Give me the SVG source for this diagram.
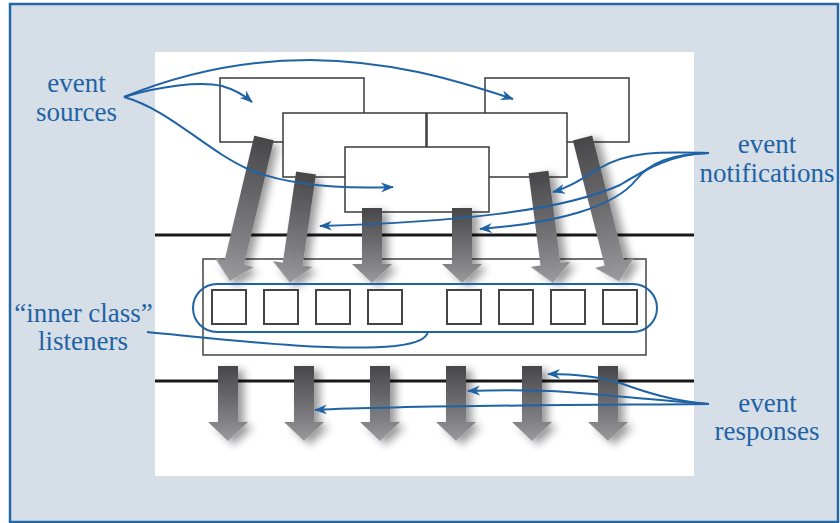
<svg xmlns="http://www.w3.org/2000/svg" width="840" height="523" viewBox="0 0 840 523">
  <style>
    .lbl { font-family: "Liberation Serif", "Times New Roman", serif; font-size: 27px; fill: #1f63a5; text-anchor: middle; }
    .box { fill: #ffffff; stroke: #3a3a3a; stroke-width: 1.5; }
    .sq { fill: #ffffff; stroke: #444444; stroke-width: 2; }
    .rule { stroke: #1a1a1a; stroke-width: 3; }
    .conn { fill: none; stroke: #1f63a5; stroke-width: 2; }
    .garrow { fill: url(#gradArrow); filter: url(#shadow); }
  </style>
  <defs>
    <linearGradient id="gradArrow" x1="0" y1="0" x2="0" y2="1">
      <stop offset="0" stop-color="#474749"/>
      <stop offset="0.7" stop-color="#7e7e82"/>
      <stop offset="1" stop-color="#9b9b9e"/>
    </linearGradient>
    <filter id="shadow" x="-60%" y="-20%" width="220%" height="150%">
      <feGaussianBlur in="SourceAlpha" stdDeviation="4"/>
      <feOffset dx="6" dy="4" result="b"/>
      <feComponentTransfer in="b" result="s">
        <feFuncA type="linear" slope="0.4"/>
      </feComponentTransfer>
      <feMerge>
        <feMergeNode in="s"/>
        <feMergeNode in="SourceGraphic"/>
      </feMerge>
    </filter>
    <marker id="head" markerUnits="userSpaceOnUse" markerWidth="14" markerHeight="12" refX="12" refY="5" orient="auto">
      <path d="M0,0 L13,5 L0,10 L4,5 Z" fill="#1f63a5"/>
    </marker>
  </defs>

  <!-- background frame -->
  <rect x="10" y="4" width="828" height="518" fill="#d6dee8" stroke="#2568aa" stroke-width="2.5"/>
  <rect x="155" y="52" width="539" height="424" fill="#ffffff"/>

  <!-- event source boxes -->
  <g id="source-a"><rect class="box" x="220" y="78" width="144" height="64"/></g>
  <g id="source-d"><rect class="box" x="485" y="78" width="144" height="64"/></g>
  <g id="source-b"><rect class="box" x="283" y="113" width="143" height="64"/></g>
  <g id="source-c"><rect class="box" x="427" y="113" width="140" height="64"/></g>
  <g id="source-e"><rect class="box" x="345" y="147" width="144" height="65"/></g>

  <!-- horizontal rules -->
  <line class="rule" x1="155" y1="235" x2="694" y2="235"/>
  <line class="rule" x1="155" y1="381" x2="694" y2="381"/>

  <!-- listener container -->
  <g id="listeners-panel">
    <rect x="203" y="259" width="443" height="96" fill="#ffffff" stroke="#444444" stroke-width="1.5"/>
  </g>

  <!-- notification arrows (upper) -->
  <g id="notification-arrows">
    <path class="garrow" transform="translate(264,138) rotate(13.4)" d="M-10,0 H10 V128 H20 L0,147 L-20,128 H-10 Z"/>
    <path class="garrow" transform="translate(306,173) rotate(8.3)" d="M-10,0 H10 V92 H20 L0,111 L-20,92 H-10 Z"/>
    <path class="garrow" transform="translate(372,208)" d="M-10,0 H10 V56 H20 L0,75 L-20,56 H-10 Z"/>
    <path class="garrow" transform="translate(462,208)" d="M-10,0 H10 V56 H20 L0,75 L-20,56 H-10 Z"/>
    <path class="garrow" transform="translate(538.5,172) rotate(-7.4)" d="M-10,0 H10 V93 H20 L0,112 L-20,93 H-10 Z"/>
    <path class="garrow" transform="translate(582.5,138) rotate(-14.3)" d="M-10,0 H10 V129 H20 L0,148 L-20,129 H-10 Z"/>
  </g>

  <!-- inner class listener squares -->
  <g id="listener-1"><rect class="sq" x="212" y="290" width="34" height="34"/></g>
  <g id="listener-2"><rect class="sq" x="264" y="290" width="34" height="34"/></g>
  <g id="listener-3"><rect class="sq" x="316" y="290" width="34" height="34"/></g>
  <g id="listener-4"><rect class="sq" x="368" y="290" width="34" height="34"/></g>
  <g id="listener-5"><rect class="sq" x="447" y="290" width="34" height="34"/></g>
  <g id="listener-6"><rect class="sq" x="499" y="290" width="34" height="34"/></g>
  <g id="listener-7"><rect class="sq" x="551" y="290" width="34" height="34"/></g>
  <g id="listener-8"><rect class="sq" x="603" y="290" width="34" height="34"/></g>

  <!-- response arrows (lower) -->
  <g id="response-arrows">
    <path class="garrow" transform="translate(228,366)" d="M-10,0 H10 V56 H20 L0,75 L-20,56 H-10 Z"/>
    <path class="garrow" transform="translate(304,366)" d="M-10,0 H10 V56 H20 L0,75 L-20,56 H-10 Z"/>
    <path class="garrow" transform="translate(380,366)" d="M-10,0 H10 V56 H20 L0,75 L-20,56 H-10 Z"/>
    <path class="garrow" transform="translate(456,366)" d="M-10,0 H10 V56 H20 L0,75 L-20,56 H-10 Z"/>
    <path class="garrow" transform="translate(532,366)" d="M-10,0 H10 V56 H20 L0,75 L-20,56 H-10 Z"/>
    <path class="garrow" transform="translate(608,366)" d="M-10,0 H10 V56 H20 L0,75 L-20,56 H-10 Z"/>
  </g>

  <!-- blue connectors -->
  <g id="connectors">
    <rect class="conn" x="193" y="284" width="464" height="48" rx="24" ry="24"/>
    <path class="conn" d="M147,332 C 230,340 330,352 395,346 C 420,343 426,338 428,332"/>
    <path class="conn" marker-end="url(#head)" d="M124,97 C 190,70 250,60 310,60 C 390,61 450,78 513,99"/>
    <path class="conn" marker-end="url(#head)" d="M124,97 C 160,86 200,81 222,86 C 236,90 245,96 252,102"/>
    <path class="conn" marker-end="url(#head)" d="M124,97 C 170,110 205,150 250,170 C 290,186 340,189 393,187"/>
    <path class="conn" marker-end="url(#head)" d="M709,153 C 665,152 630,150 600,168 C 580,180 568,188 553,192"/>
    <path class="conn" marker-end="url(#head)" d="M709,153 C 672,154 648,168 620,185 C 560,212 450,222 320,226"/>
    <path class="conn" marker-end="url(#head)" d="M709,153 C 672,154 650,162 636,180 C 615,206 560,223 480,229"/>
    <path class="conn" marker-end="url(#head)" d="M709,404 C 672,401 645,392 620,383 C 600,377 580,374 548,374"/>
    <path class="conn" marker-end="url(#head)" d="M709,404 C 650,400 590,393 550,391 C 520,390 495,390 468,391"/>
    <path class="conn" marker-end="url(#head)" d="M709,404 C 600,405 420,405 315,410"/>
  </g>

  <!-- labels -->
  <g id="label-sources">
    <text class="lbl" x="76.5" y="92">event</text>
    <text class="lbl" x="76.5" y="121">sources</text>
  </g>
  <g id="label-notifications">
    <text class="lbl" x="767" y="153">event</text>
    <text class="lbl" x="767" y="182">notifications</text>
  </g>
  <g id="label-listeners">
    <text class="lbl" x="83.5" y="322">“inner class”</text>
    <text class="lbl" x="83" y="350">listeners</text>
  </g>
  <g id="label-responses">
    <text class="lbl" x="767.5" y="412">event</text>
    <text class="lbl" x="767" y="440">responses</text>
  </g>
</svg>
